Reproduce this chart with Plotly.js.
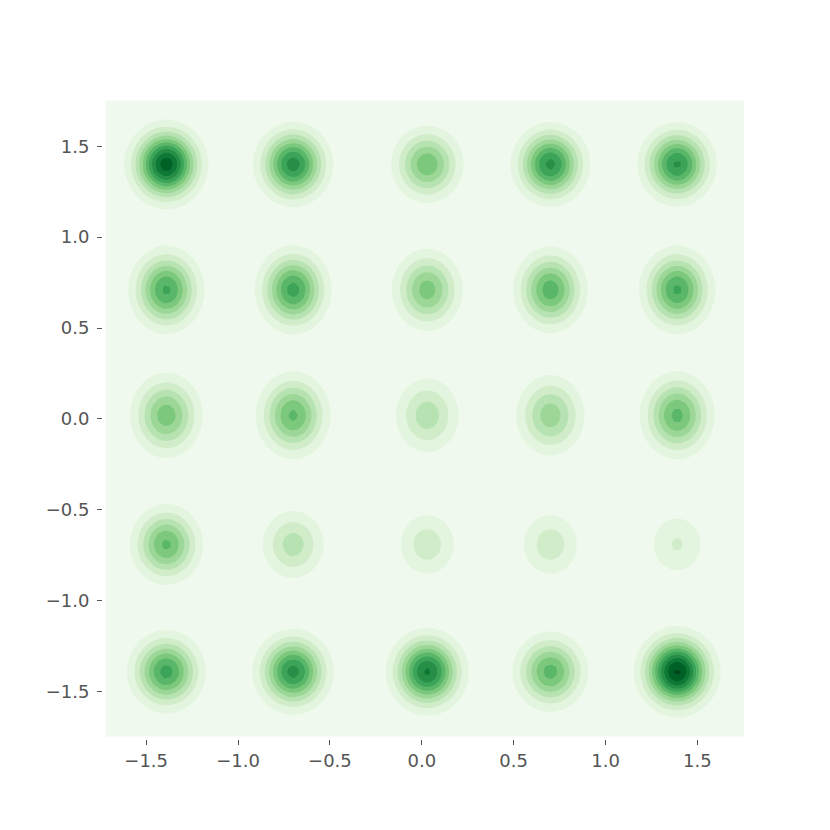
<!DOCTYPE html>
<html>
<head>
<meta charset="utf-8">
<script src="https://cdn.plot.ly/plotly-3.0.1.min.js"></script>
<style>
  body { margin: 0; background: #fff; }
  #chart { width: 830px; height: 830px; }
</style>
</head>
<body>
<div id="chart"></div>
<script>
// blob centres (column x, row y)
const colCenters = [-1.39, -0.70, 0.03, 0.70, 1.39];
const rowCenters = [1.40, 0.71, 0.02, -0.69, -1.39];

// peak density of each blob, in contour-level units (rows top to bottom)
const peaks = [
    [10.6, 8.5, 5.8, 8.3, 8.2],
    [7.2, 7.4, 5.5, 6.6, 7.2],
    [5.6, 6.2, 3.6, 4.6, 6.3],
    [6.2, 3.5, 2.6, 2.6, 2.1],
    [7.4, 8.4, 9.2, 6.4, 11.2]
];

// kernel spread of the blobs in each row
const spreadX = [0.105, 0.104, 0.106, 0.104, 0.107];
const spreadY = [0.113, 0.122, 0.126, 0.116, 0.114];

// extent of the density grid
const xMin = -1.722, xMax = 1.756;
const yMin = -1.747, yMax = 1.753;
const nGrid = 120;

const gx = [], gy = [];
for (let i = 0; i < nGrid; i++) {
    gx.push(xMin + (xMax - xMin) * i / (nGrid - 1));
    gy.push(yMin + (yMax - yMin) * i / (nGrid - 1));
}

const z = gy.map(function(y) {
    return gx.map(function(x) {
        let s = 0;
        rowCenters.forEach(function(cy, r) {
            colCenters.forEach(function(cx, c) {
                const dx = (x - cx) / spreadX[r], dy = (y - cy) / spreadY[r];
                s += peaks[r][c] * Math.exp(-0.5 * (dx * dx + dy * dy));
            });
        });
        return s;
    });
});

// Greens, light to dark, starting a touch above white
const greens = [
    [0, 'rgb(240,249,237)'],
    [0.0885, 'rgb(229,245,224)'],
    [0.219, 'rgb(199,233,192)'],
    [0.349, 'rgb(161,217,155)'],
    [0.479, 'rgb(116,196,118)'],
    [0.609, 'rgb(65,171,93)'],
    [0.740, 'rgb(35,139,69)'],
    [0.870, 'rgb(0,109,44)'],
    [1, 'rgb(0,68,27)']
];

const data = [{
    type: 'contour',
    x: gx,
    y: gy,
    z: z,
    colorscale: greens,
    showscale: false,
    contours: {start: 1, end: 11, size: 1, coloring: 'fill'},
    line: {width: 0, smoothing: 0.85},
    hoverinfo: 'skip'
}];

const tickFont = {family: '"DejaVu Sans", sans-serif', size: 18, color: '#555'};

const axisStyle = {
    showgrid: false,
    zeroline: false,
    showline: false,
    ticks: 'outside',
    ticklen: 5,
    tickwidth: 1,
    tickcolor: '#555',
    dtick: 0.5,
    tickformat: '.1f',
    tickfont: tickFont
};

const layout = {
    width: 830,
    height: 830,
    margin: {l: 103, r: 83, t: 98, b: 91},
    paper_bgcolor: '#fff',
    plot_bgcolor: '#fff',
    font: {family: '"DejaVu Sans", sans-serif', size: 18, color: '#555'},
    showlegend: false,
    xaxis: Object.assign({range: [-1.735, 1.77]}, axisStyle),
    yaxis: Object.assign({range: [-1.76, 1.765], ticklabelstandoff: 4}, axisStyle)
};

Plotly.newPlot('chart', data, layout, {displayModeBar: false, staticPlot: true});
</script>
</body>
</html>
